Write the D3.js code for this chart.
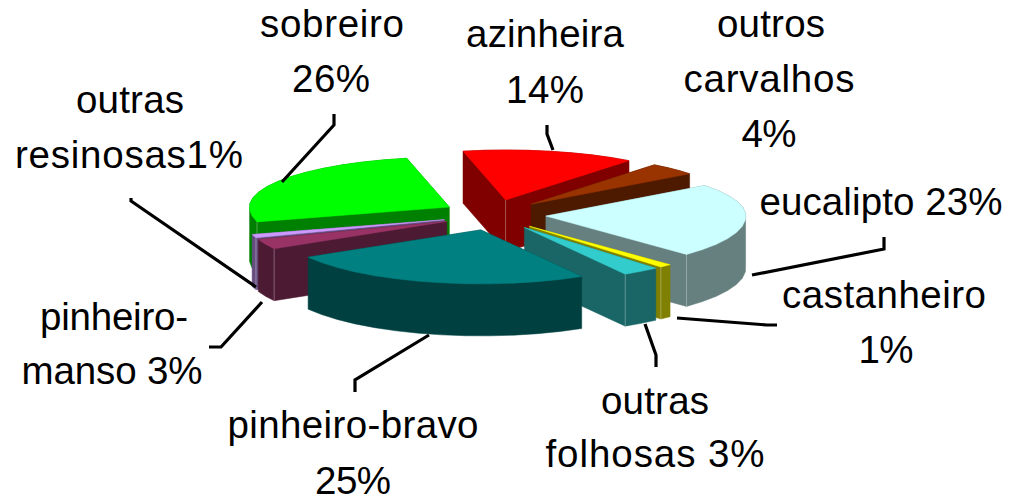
<!DOCTYPE html>
<html><head><meta charset="utf-8">
<script src="https://cdn.jsdelivr.net/npm/d3@7/dist/d3.min.js"></script>
<style>html,body{margin:0;padding:0;background:#fff}svg{display:block}</style>
</head><body><div id="chart"></div>
<script>
const categories = ["sobreiro","azinheira","outros carvalhos","eucalipto","castanheiro","outras folhosas","pinheiro-bravo","pinheiro-manso","outras resinosas"];
const values = [26,14,4,23,1,3,25,3,1];
const topColors = ["#00ff00","#ff0000","#993300","#ccffff","#ffff00","#33cccc","#008080","#993366","#cc99ff"];
const sideColors = ["#008000","#800000","#4d1a00","#668080","#808000","#1a6666","#004040","#4d1a33","#664d80"];
const paintOrder = [0,1,2,3,4,5,8,7,6];

// label text, line by line, with its layout [text, centre x, baseline y, width]
const labelLines = [
  ["sobreiro",332,37,144],["26%",331,92,78],
  ["azinheira",545,47,158],["14%",545,103,78],
  ["outros",771,37,108],["carvalhos",769,92,171],["4%",769,147,55],
  ["eucalipto 23%",881,215,243],
  ["castanheiro",884,308,204],["1%",886,363,55],
  ["outras",655,414,108],["folhosas 3%",655,467,219],
  ["pinheiro-bravo",353,438,251],["25%",353,494,76],
  ["pinheiro-",114,330,148],["manso 3%",112,384,181],
  ["outras",130,113,108],["resinosas1%",129,168,228]
];
const leaderPaths = [
  [[282,182],[334,125],[334,114]],
  [[553,150],[547,134],[547,125]],
  [[752,275],[884,249],[884,237]],
  [[677,318],[767,325],[777,325]],
  [[645,324],[656,355],[656,367]],
  [[429,335],[355,380],[355,392]],
  [[262,302],[221,347],[209,347]],
  [[256,287],[131,201],[131,198]]
];

const W = 1013, H = 498;
const cx = 494, cy = 215;
const rx = 200, ryBack = 50, ryFront = 54, depth = 52;
const explodeX = 52, explodeY = 15.4;
const deg = Math.PI/180;
const arcStep = 7*deg;

const svg = d3.select("#chart").append("svg").attr("width",W).attr("height",H);
const pie = d3.pie().sort(null).startAngle(-105.9*deg).endAngle(254.1*deg);
const arcs = pie(values);
const line = d3.line();

function slicePolygon(a){
  const mid = (a.startAngle+a.endAngle)/2;
  const ax = cx + explodeX*Math.sin(mid), ay = cy - explodeY*Math.cos(mid);
  const n = Math.max(1, Math.ceil((a.endAngle-a.startAngle)/arcStep));
  const ring = d3.range(n+1).map(i=>{
    const t = a.startAngle + (a.endAngle-a.startAngle)*i/n;
    const c = Math.cos(t);
    return [ax + rx*Math.sin(t), ay - (c>0?ryBack:ryFront)*c];
  });
  return [[ax,ay],...ring];
}

const g = svg.append("g");
paintOrder.forEach(i=>{
  const poly = slicePolygon(arcs[i]);
  const s = g.append("g");
  const m = poly.length;
  // the extruded body is the hull of the top face and the same face one depth lower
  const body = d3.polygonHull(poly.concat(poly.map(p=>[p[0],p[1]+depth])));
  s.append("path").attr("d",line(body)+"Z")
    .attr("fill",sideColors[i]).attr("stroke",sideColors[i]).attr("stroke-width",0.5);
  // pale seam on the corners that face the viewer
  [0,1,m-1].forEach(k=>{
    const v = poly[k], p = poly[(k-1+m)%m], n = poly[(k+1)%m];
    const between = (p[0]-v[0])*(n[0]-v[0]) < 0;
    const yOnChord = p[1] + (n[1]-p[1])*(v[0]-p[0])/(n[0]-p[0]);
    if(between && v[1] > yOnChord){
      s.append("path").attr("d",line([v,[v[0],v[1]+depth]]))
        .attr("stroke",d3.interpolateRgb(sideColors[i],"#ffffff")(0.4))
        .attr("stroke-width",0.8).attr("fill","none");
    }
  });
  s.append("path").attr("d",line(poly)+"Z")
    .attr("fill",topColors[i]).attr("stroke",topColors[i]).attr("stroke-width",0.5);
});

svg.append("g").selectAll("path").data(leaderPaths).join("path")
  .attr("d",d=>line(d)).attr("fill","none").attr("stroke","#000")
  .attr("stroke-width",3.2).attr("stroke-linejoin","miter");

svg.append("g").selectAll("text").data(labelLines).join("text")
  .attr("x",d=>d[1]).attr("y",d=>d[2]).attr("text-anchor","middle")
  .attr("textLength",d=>d[3]).attr("lengthAdjust","spacing")
  .attr("font-family","'Liberation Sans',Arial,sans-serif").attr("font-size",38.5)
  .attr("fill","#000").text(d=>d[0]);
</script></body></html>
